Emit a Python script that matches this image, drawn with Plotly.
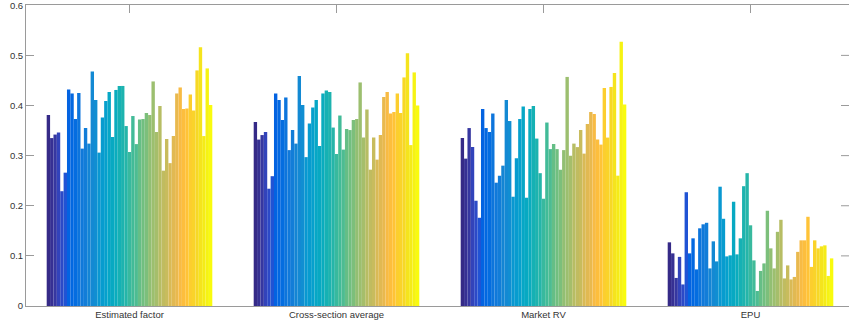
import plotly.graph_objects as go

# ---------------- data ----------------
categories = ["Estimated factor", "Cross-section average", "Market RV", "EPU"]

estimated_factor = [0.381, 0.335, 0.342, 0.346, 0.229, 0.266, 0.432, 0.424, 0.373, 0.425,
                    0.314, 0.355, 0.324, 0.468, 0.411, 0.306, 0.376, 0.409, 0.427, 0.337,
                    0.431, 0.439, 0.439, 0.359, 0.307, 0.379, 0.323, 0.372, 0.373, 0.385,
                    0.381, 0.448, 0.347, 0.399, 0.270, 0.333, 0.285, 0.339, 0.424, 0.436,
                    0.393, 0.394, 0.422, 0.390, 0.470, 0.516, 0.339, 0.474, 0.401]

cross_section_average = [0.367, 0.332, 0.341, 0.347, 0.234, 0.259, 0.424, 0.411, 0.371, 0.416,
                         0.311, 0.351, 0.324, 0.459, 0.401, 0.297, 0.364, 0.396, 0.411, 0.319,
                         0.424, 0.430, 0.427, 0.356, 0.303, 0.380, 0.312, 0.353, 0.351, 0.371,
                         0.373, 0.446, 0.336, 0.392, 0.272, 0.336, 0.292, 0.341, 0.417, 0.427,
                         0.384, 0.387, 0.424, 0.385, 0.456, 0.504, 0.321, 0.466, 0.400]

market_rv = [0.335, 0.294, 0.355, 0.317, 0.210, 0.176, 0.393, 0.355, 0.347, 0.384,
             0.246, 0.260, 0.280, 0.411, 0.369, 0.218, 0.295, 0.373, 0.398, 0.216,
             0.393, 0.399, 0.334, 0.265, 0.214, 0.366, 0.313, 0.323, 0.313, 0.272,
             0.311, 0.457, 0.300, 0.324, 0.317, 0.351, 0.304, 0.363, 0.387, 0.383,
             0.332, 0.322, 0.435, 0.336, 0.437, 0.465, 0.260, 0.527, 0.402]

epu = [0.127, 0.105, 0.056, 0.098, 0.043, 0.227, 0.105, 0.135, 0.073, 0.155,
       0.163, 0.166, 0.075, 0.129, 0.089, 0.238, 0.174, 0.099, 0.101, 0.208,
       0.103, 0.135, 0.239, 0.265, 0.161, 0.091, 0.030, 0.070, 0.085, 0.190,
       0.115, 0.075, 0.148, 0.172, 0.055, 0.081, 0.053, 0.058, 0.108, 0.131,
       0.131, 0.178, 0.078, 0.131, 0.115, 0.119, 0.121, 0.060, 0.095]

y_ticks = [0, 0.1, 0.2, 0.3, 0.4, 0.5, 0.6]
y_tick_labels = ["0", "0.1", "0.2", "0.3", "0.4", "0.5", "0.6"]

# ---------------- style: MATLAB parula (64) ----------------
PARULA = [
    (0.2081, 0.1663, 0.5292), (0.2116, 0.1898, 0.5777), (0.2123, 0.2138, 0.6270), (0.2081, 0.2386, 0.6771),
    (0.1959, 0.2645, 0.7279), (0.1707, 0.2919, 0.7792), (0.1253, 0.3242, 0.8303), (0.0591, 0.3598, 0.8683),
    (0.0117, 0.3875, 0.8820), (0.0060, 0.4086, 0.8828), (0.0165, 0.4266, 0.8786), (0.0329, 0.4430, 0.8720),
    (0.0498, 0.4586, 0.8641), (0.0629, 0.4737, 0.8554), (0.0723, 0.4887, 0.8467), (0.0779, 0.5040, 0.8384),
    (0.0793, 0.5200, 0.8312), (0.0749, 0.5375, 0.8263), (0.0641, 0.5570, 0.8240), (0.0488, 0.5772, 0.8228),
    (0.0343, 0.5966, 0.8199), (0.0265, 0.6137, 0.8135), (0.0239, 0.6287, 0.8038), (0.0231, 0.6418, 0.7913),
    (0.0228, 0.6535, 0.7768), (0.0267, 0.6642, 0.7607), (0.0384, 0.6743, 0.7436), (0.0590, 0.6838, 0.7254),
    (0.0843, 0.6928, 0.7062), (0.1133, 0.7015, 0.6859), (0.1453, 0.7098, 0.6646), (0.1801, 0.7177, 0.6424),
    (0.2178, 0.7250, 0.6193), (0.2586, 0.7317, 0.5954), (0.3022, 0.7376, 0.5712), (0.3482, 0.7424, 0.5473),
    (0.3953, 0.7459, 0.5244), (0.4420, 0.7481, 0.5033), (0.4871, 0.7491, 0.4840), (0.5300, 0.7491, 0.4661),
    (0.5709, 0.7485, 0.4494), (0.6099, 0.7473, 0.4337), (0.6473, 0.7456, 0.4188), (0.6834, 0.7435, 0.4044),
    (0.7184, 0.7411, 0.3905), (0.7525, 0.7384, 0.3768), (0.7858, 0.7356, 0.3633), (0.8185, 0.7327, 0.3498),
    (0.8507, 0.7299, 0.3360), (0.8824, 0.7274, 0.3217), (0.9139, 0.7258, 0.3063), (0.9450, 0.7261, 0.2886),
    (0.9739, 0.7314, 0.2666), (0.9938, 0.7455, 0.2403), (0.9990, 0.7653, 0.2164), (0.9955, 0.7861, 0.1967),
    (0.9880, 0.8066, 0.1794), (0.9789, 0.8271, 0.1633), (0.9697, 0.8481, 0.1475), (0.9626, 0.8705, 0.1309),
    (0.9589, 0.8949, 0.1132), (0.9598, 0.9218, 0.0948), (0.9661, 0.9514, 0.0755), (0.9763, 0.9831, 0.0538),
]

W, H = 849, 326
ML, MR, MT, MB = 26, 0, 5, 20
AXIS_COLOR = "#9a9a9a"
TEXT_COLOR = "#333333"
FONT = "Liberation Sans, Arial, sans-serif"

n = len(estimated_factor)
xpos = list(range(1, len(categories) + 1))

fig = go.Figure()
for i in range(n):
    idx = min(63, int(i / (n - 1) * 64))
    r, g, b = PARULA[idx]
    col = f"rgb({round(r*255)},{round(g*255)},{round(b*255)})"
    fig.add_trace(go.Bar(
        x=xpos,
        y=[estimated_factor[i], cross_section_average[i], market_rv[i], epu[i]],
        marker=dict(color=col, line=dict(width=0)),
        showlegend=False,
        name=f"Series {i+1}",
    ))

plot_w = W - ML - MR
# right-hand mirrored tick marks (axis box extends beyond the crop)
shapes = []
for v in y_ticks[1:-1]:
    shapes.append(dict(type="line", xref="paper", yref="y",
                       x0=1 - 8 / plot_w, x1=1, y0=v, y1=v,
                       line=dict(color=AXIS_COLOR, width=1)))

x_right = 0.5 + plot_w / 207.0   # one category ~207 px wide; box is cropped on the right

fig.update_layout(
    width=W, height=H,
    margin=dict(l=ML, r=MR, t=MT, b=MB, pad=0, autoexpand=False),
    paper_bgcolor="white", plot_bgcolor="white",
    barmode="group", bargap=0.2, bargroupgap=0,
    font=dict(family=FONT, color=TEXT_COLOR, size=9.5),
    shapes=shapes,
    xaxis=dict(
        range=[0.5, x_right],
        tickmode="array", tickvals=xpos, ticktext=categories,
        ticks="inside", ticklen=8, tickcolor=AXIS_COLOR,
        showline=True, linecolor=AXIS_COLOR, linewidth=1, mirror="ticks",
        showgrid=False, zeroline=False, layer="below traces",
        tickfont=dict(size=9.5, color=TEXT_COLOR),
        automargin=False,
    ),
    yaxis=dict(
        range=[0, 0.6005],
        tickmode="array", tickvals=y_ticks, ticktext=y_tick_labels,
        ticks="inside", ticklen=8, tickcolor=AXIS_COLOR,
        showline=True, linecolor=AXIS_COLOR, linewidth=1,
        showgrid=False, zeroline=False,
        tickfont=dict(size=9.5, color=TEXT_COLOR),
        ticklabeloverflow="allow",
        automargin=False,
    ),
)

fig.write_html(
    "out.html",
    config={"displayModeBar": False},
    post_script="document.body.style.margin='0';document.body.style.overflow='hidden';",
)
